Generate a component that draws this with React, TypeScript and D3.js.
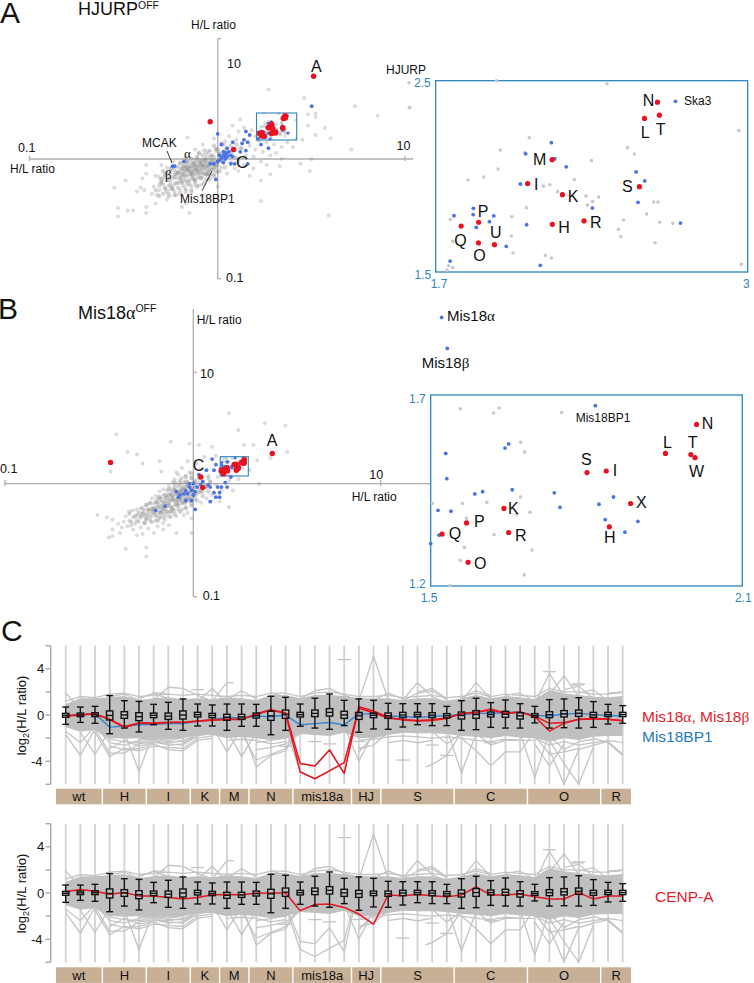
import React from "react";
import * as d3 from "d3";

type P = number[];

// ---------- Panel A main scatter (log10 H/L ratio) ----------
const hjurpGray: P[] = [
[.27,.58],[.46,.51],[.73,.44],[1.02,.43],[.85,.36],[.48,.37],[.52,.38],[.48,.28],[.57,.26],[.52,.35],[.45,.16],[.52,.2],[.6,.17],[.71,.08],[.5,0],[.44,-.04],[.49,-.1],[.34,0],[.33,-.06],[.28,-.13],[.23,-.18],[.23,-.35],[.59,-.47],[.12,.33],[.08,.28],[-.16,.18],[-.08,.12],[-.02,.17],[-.38,-.05],[-.38,-.12],[-.4,-.16],[-.49,-.18],[-.55,-.24],[-.41,-.24],[-.43,-.27],[-.39,-.26],[-.53,-.41],[-.48,-.43],[-.45,-.43],[-.53,-.48],[-.38,-.4],[-.38,-.45],[-.33,-.37],[-.31,-.31],[-.27,-.34],[-.19,-.4],[-.17,-.37],[-.15,-.45],[-.08,-.31],[0,-.23],[-.14,-.28],[-.22,-.3],[-.25,-.25],[-.3,-.2],[-.34,-.23],[-.28,-.12],[-.33,-.14],[-.3,-.05],[-.24,-.02],[-.12,.08],
[.11,.23],[.14,.26],[.18,.24],[.2,.19],[.24,.2],[.22,.15],[.26,.14],[.3,.12],[.34,.1],[.37,.14],[.4,.1],[.31,.05],[.28,.03],[.24,.06],[.2,.08],[.17,.11],[.13,.09],[.1,.16],[.06,.19],[.04,.15],[.23,-.02],[.19,.02],[.15,.03],[.26,-.05],[.19,-.08],[.14,-.05],[.11,-.1],[.17,-.14],[.09,-.08],[.05,-.12],[.11,-.02],[.07,.07],[-.01,.09],[-.04,.07],[-.06,.04],[-.1,.05],[.01,.05],
[-.02,.02],[-.04,-.01],[-.07,0],[-.09,-.02],[-.12,-.01],[-.14,-.03],[-.16,-.02],[-.18,-.05],[-.2,-.03],[-.06,-.03],[-.03,-.05],[-.01,-.03],[-.05,-.06],[-.08,-.05],[-.1,-.06],[-.12,-.05],[-.13,-.07],[-.15,-.06],[-.17,-.07],[-.19,-.08],[-.21,-.07],[-.23,-.09],[-.07,-.08],[-.09,-.09],[-.11,-.09],[-.13,-.1],[-.15,-.1],[-.17,-.11],[-.19,-.12],[-.21,-.11],[-.23,-.13],[-.25,-.1],[-.08,-.12],[-.1,-.12],[-.12,-.13],[-.14,-.13],[-.16,-.14],[-.18,-.15],[-.2,-.15],[-.22,-.16],[-.24,-.16],[-.26,-.14],[-.05,-.1],[-.03,-.08],[-.06,-.13],[-.09,-.16],[-.11,-.16],[-.13,-.17],[-.15,-.18],[-.17,-.19],[-.19,-.19],[-.21,-.2],[-.23,-.21],[-.25,-.19],[-.27,-.18],[-.29,-.16],[-.31,-.15],[-.04,-.16],[-.07,-.19],[-.1,-.22],[-.12,-.21],[-.14,-.23],[-.17,-.25],[-.2,-.26],[-.23,-.27],[-.26,-.29],[-.28,-.25],[-.31,-.26],[-.35,-.29],[-.01,-.07],[0,-.11],[.02,-.07],[.03,.01],[.02,-.02],[-.02,-.13],[-.11,.02],[-.17,.01],[-.22,-.06],[-.27,-.07],[-.06,.01],[-.13,-.04],[-.16,-.09],[-.2,-.1],[-.11,-.11],[-.14,-.15],[-.18,-.17],[-.08,-.15],[-.06,-.17],[-.12,-.19],[-.16,-.21],[-.09,-.04],[-.04,-.03],[-.18,-.13],[-.22,-.13],[-.26,-.22],[-.2,-.18],[-.24,-.24],[-.29,-.21],
];
const hjurpCore: P[] = [
[-.32,-.3],[-.33,-.26],[-.31,-.22],[-.3,-.17],[-.29,-.29],[-.28,-.24],[-.3,-.19],[-.28,-.14],[-.29,-.1],[-.26,-.31],[-.27,-.27],[-.25,-.22],[-.26,-.17],[-.27,-.12],[-.25,-.08],[-.23,-.3],[-.24,-.25],[-.22,-.2],[-.23,-.15],[-.22,-.11],[-.24,-.07],[-.2,-.29],[-.21,-.24],[-.19,-.2],[-.2,-.16],[-.21,-.12],[-.19,-.08],[-.2,-.04],[-.17,-.27],[-.18,-.23],[-.16,-.18],[-.17,-.14],[-.18,-.1],[-.16,-.06],[-.17,-.02],[-.14,-.26],[-.15,-.21],[-.13,-.16],[-.14,-.12],[-.15,-.08],[-.13,-.04],[-.14,0],[-.11,-.23],[-.12,-.18],[-.1,-.14],[-.11,-.1],[-.12,-.07],[-.1,-.03],[-.11,.01],[-.1,.05],[-.08,-.21],[-.09,-.16],[-.07,-.12],[-.08,-.08],[-.09,-.05],[-.07,-.01],[-.08,.03],[-.07,.07],[-.05,-.17],[-.06,-.13],[-.04,-.09],[-.05,-.06],[-.06,-.02],[-.04,.02],[-.05,.06],[-.02,-.14],[-.03,-.09],[-.01,-.05],[-.02,-.01],[-.03,.03],[-.01,.07],[-.02,.11],[.01,-.1],[0,-.05],[.02,0],[.01,.04],[0,.08],[.02,.13],[.04,-.07],[.03,-.02],[.05,.03],[.04,.07],[.03,.12],[.07,-.03],[.06,.02],[.08,.06],[.07,.11],[.1,.01],[.12,.09],[.1,.12],
[-.16,-.03],[-.14,-.06],[-.12,-.09],[-.1,-.01],[-.08,-.06],[-.06,-.09],[-.04,-.04],[-.02,-.07],[0,-.02],[-.15,-.12],[-.13,-.13],[-.11,-.06],[-.09,-.11],[-.07,-.05],[-.05,-.12],[-.03,-.02],[-.01,-.1],[-.16,-.09],[-.12,-.03],[-.08,-.02],[-.06,-.06],[-.04,-.13],[-.02,-.04],[-.14,-.1],[-.1,-.08],[-.18,-.06],[-.19,-.13],[-.17,-.08],
];
const hjurpBlue: P[] = [
[.5,.44],[0,.21],[.15,.23],[.17,.2],[.16,.14],[.14,.16],[.08,.14],[.02,.12],[.05,.09],[.03,.06],[.04,.05],[.01,.03],[.05,.02],[.07,.03],[.08,.02],[.01,-.01],[.04,0],[.12,.06],[.15,.07],[.09,-.04],[.07,-.04],[.03,-.03],[0,-.02],[-.04,-.04],[-.02,-.04],[-.23,-.06],[-.24,-.06],[-.18,-.02],[-.01,-.17],[.16,-.04],[.23,.12],[.27,.09],[.03,.03],[.05,.05],[.02,.01],[.06,.06],[.04,.02],[.13,.13],
];
const hjurpRed: P[] = [[.51,.69],[-.04,.31],[.085,.08]];

// ---------- Panel A inset (linear H/L ratio) ----------
const hjurpInsetRed: P[] = [
[2.624,2.388],[2.57,2.303],[2.632,2.32],[2.185,2.087],[2.083,1.962],[2.228,1.904],[2.549,1.946],[2.186,1.749],[2.318,1.767],[1.879,1.76],[1.806,1.74],[1.945,1.643],[1.878,1.653],
];
const hjurpInsetBlue: P[] = [
[2.699,2.392],[2.182,2.176],[2.075,2.118],[2.196,2.092],[2.244,2.05],[2.535,2.023],[2.571,1.976],[2.053,1.96],[2.543,1.864],[2.353,1.834],[2.72,1.756],[1.857,1.833],[1.856,1.8],[1.776,1.794],[1.942,1.793],[1.924,1.763],[1.869,1.733],[2.079,1.747],[1.994,1.634],[1.76,1.557],[2.136,1.535],
];
const hjurpInsetGray: P[] = [
[1.953,2.5],[2.414,2.484],[2.963,2.24],[2.09,2.202],[1.969,2.138],[2.071,2.124],[2.499,2.15],[2.528,2.117],[2.349,2.082],[1.96,2.038],[1.835,1.981],[1.9,1.996],[2.278,1.983],[2.149,1.949],[2.176,1.956],[2.208,1.92],[2.326,1.897],[2.379,1.892],[2.332,1.85],[2.354,1.868],[2.608,1.866],[2.626,1.866],[2.078,1.836],[2.579,1.803],[2.017,1.789],[1.761,1.774],[2.483,1.772],[2.633,1.76],[2.688,1.754],[2.461,1.723],[2.471,1.685],[2.015,1.688],[1.771,1.66],[2.614,1.653],[1.882,1.641],[2.022,1.599],[2.157,1.587],[2.182,1.573],[1.754,1.533],[1.771,1.523],[1.747,1.51],[2.974,1.54],[1.589,2.489],[1.592,2.36],
];
const hjurpInsetLabels: [string, number, number][] = [
["N",642.7,106],["L",640.7,137.7],["T",655.7,135],["M",533,165],["I",534,190],["K",567.7,201.7],["S",622,192],["H",558.3,232.7],["R",590,228],["P",477.7,217.3],["U",490,238.3],["Q",454.3,245.7],["O",473.3,260.7],
];

// ---------- Panel B main scatter (log10 H/L ratio) ----------
const mis18Gray: P[] = [
[-.41,.44],[-.35,.28],[-.3,.26],[-.27,.18],[-.18,.2],[-.44,.11],[-.17,.11],[-.12,.375],[-.02,.36],[.03,.345],[.1,.33],[.19,.63],[.24,.48],[.27,.345],[.32,.345],[.38,.54],[.49,.52],[.5,.28],[.41,.23],[.34,.21],[.35,0],[.21,-.06],[.19,-.21],[-.51,-.28],[-.46,-.3],[-.43,-.32],[-.43,-.41],[-.45,-.48],[-.43,-.47],[-.39,-.44],[-.36,-.58],[-.25,-.57],[-.25,-.65],[-.16,-.41],[-.09,-.44],[-.01,-.44],[-.01,-.31],
[.12,.25],[.06,.24],[.16,.2],[.21,.17],[.26,.15],[.3,.12],[.24,.04],[.19,.03],[.13,.06],[.08,.07],[.04,.13],[.02,.18],[-.03,.2],[-.06,.14],[-.09,.1],[.09,.02],[.12,-.01],[.15,-.06],[.1,-.1],[.07,-.13],[.14,-.16],[.04,-.17],[.01,-.14],
[-.02,.1],[-.04,.07],[-.06,.05],[-.08,.08],[-.1,.04],[-.01,.05],[.01,.03],[.03,.01],[-.03,.02],[-.05,.01],[-.07,.01],[-.09,0],[-.11,.01],[-.13,-.02],[.01,-.02],[-.02,-.02],[-.04,-.03],[-.06,-.04],[-.08,-.03],[-.1,-.05],[-.12,-.05],[-.14,-.06],[-.16,-.05],[-.18,-.07],[0,-.06],[-.02,-.07],[-.04,-.08],[-.06,-.09],[-.08,-.08],[-.1,-.1],[-.12,-.1],[-.14,-.11],[-.16,-.1],[-.18,-.12],[-.2,-.11],[-.22,-.13],[.02,-.09],[0,-.1],[-.03,-.12],[-.05,-.13],[-.07,-.13],[-.09,-.14],[-.11,-.15],[-.13,-.15],[-.15,-.16],[-.17,-.16],[-.19,-.17],[-.21,-.18],[-.23,-.18],[-.25,-.19],[-.02,-.16],[-.04,-.17],[-.06,-.18],[-.08,-.18],[-.1,-.19],[-.12,-.2],[-.14,-.2],[-.16,-.21],[-.18,-.21],[-.2,-.22],[-.22,-.23],[-.24,-.23],[-.26,-.24],[-.28,-.22],[-.3,-.23],[-.32,-.24],[-.04,-.21],[-.06,-.23],[-.08,-.23],[-.1,-.24],[-.12,-.25],[-.14,-.25],[-.16,-.26],[-.18,-.26],[-.2,-.27],[-.22,-.28],[-.24,-.28],[-.26,-.29],[-.28,-.29],[-.3,-.28],[-.32,-.3],[-.34,-.27],[-.36,-.29],[-.09,-.29],[-.12,-.3],[-.15,-.32],[-.18,-.31],[-.2,-.33],[-.23,-.33],[-.26,-.35],[-.29,-.34],[-.31,-.36],[-.34,-.33],[-.37,-.34],[-.13,-.37],[-.19,-.38],[-.24,-.4],[-.28,-.39],[-.32,-.41],[-.35,-.38],[-.21,-.44],[-.27,-.45],[-.3,-.46],[-.38,-.39],[-.15,-.28],[-.03,-.26],[-.01,-.2],[.03,-.04],[.05,-.07],[.07,-.03],[-.11,-.07],[-.15,-.13],[-.19,-.14],[-.07,-.06],[-.13,-.18],[-.17,-.24],[-.21,-.25],[-.27,-.26],[-.11,-.22],[-.25,-.32],[-.33,-.37],[-.16,-.35],[-.05,-.28],[-.4,-.36],
];
const mis18Core: P[] = [
[-.33,-.34],[-.31,-.29],[-.34,-.25],[-.3,-.33],[-.28,-.3],[-.29,-.26],[-.27,-.22],[-.26,-.35],[-.25,-.31],[-.27,-.27],[-.24,-.23],[-.25,-.19],[-.22,-.34],[-.23,-.3],[-.21,-.26],[-.22,-.22],[-.23,-.17],[-.19,-.33],[-.2,-.29],[-.18,-.25],[-.19,-.21],[-.2,-.16],[-.18,-.12],[-.16,-.3],[-.17,-.26],[-.15,-.22],[-.16,-.18],[-.17,-.14],[-.15,-.1],[-.13,-.29],[-.14,-.25],[-.12,-.21],[-.13,-.17],[-.14,-.13],[-.12,-.09],[-.13,-.05],[-.1,-.27],[-.11,-.23],[-.09,-.19],[-.1,-.15],[-.11,-.11],[-.09,-.07],[-.1,-.03],[-.1,.01],[-.07,-.25],[-.08,-.2],[-.06,-.16],[-.07,-.12],[-.08,-.09],[-.06,-.05],[-.07,-.01],[-.07,.03],[-.04,-.22],[-.05,-.17],[-.03,-.13],[-.04,-.09],[-.05,-.06],[-.03,-.02],[-.04,.02],[-.04,.06],[-.01,-.18],[-.02,-.14],[0,-.1],[-.01,-.06],[-.02,-.03],[0,.01],[-.01,.05],[-.01,.09],[.02,-.15],[.01,-.11],[.03,-.07],[.02,-.03],[.01,.01],[.03,.05],[.05,-.11],[.04,-.07],[.06,-.03],[.05,.01],[.04,.06],[.08,-.07],[.07,-.02],[.09,.01],[.08,.05],
[-.09,-.17],[-.07,-.14],[-.05,-.11],[-.03,-.08],[-.01,-.05],[.01,-.08],[-.11,-.13],[-.09,-.09],[-.07,-.07],[-.05,-.03],[-.03,0],[-.01,-.12],[-.13,-.1],[-.12,-.14],[-.1,-.06],[-.08,-.15],[-.06,-.08],[-.04,-.15],[-.02,-.09],[0,-.04],[-.15,-.17],[-.17,-.2],[-.19,-.18],[-.21,-.22],[-.14,-.2],[-.12,-.25],[-.16,-.23],[-.23,-.25],[-.25,-.27],[-.18,-.29],
];
const mis18Blue: P[] = [
[.1,.22],[-.2,-.24],[-.15,-.2],[-.09,-.07],[-.08,-.12],[.01,-.23],[.09,-.16],[.12,-.12],[.14,-.12],[.14,-.08],[.15,-.03],[.17,.01],[.18,-.03],[.13,-.03],[.11,-.08],[.08,-.01],[.05,.02],[.07,.12],[.11,.12],[.12,.17],[0,0],[-.02,-.03],[-.04,-.06],[-.01,-.06],[.02,-.03],[.01,-.07],[-.05,-.09],[-.03,-.09],[-.01,-.15],[-.04,-.15],[0,-.1],[.04,-.01],[-.02,0],[.09,-.03],[.2,.06],[.15,.13],[.03,.08],[-.07,-.1],
];
const mis18Red: P[] = [[.42,.27],[-.44,.19],[.04,.06],[.05,-.035]];

// ---------- Panel B inset ----------
const mis18InsetRed: P[] = [
[2.012,1.623],[1.952,1.547],[2.001,1.544],[2.009,1.536],[1.801,1.497],[1.838,1.501],[1.885,1.416],[1.641,1.403],[1.569,1.365],[1.844,1.355],[1.65,1.34],[1.522,1.336],[1.572,1.262],
];
const mis18InsetBlue: P[] = [
[1.521,1.903],[1.532,1.822],[1.817,1.672],[1.65,1.572],[1.643,1.561],[1.529,1.547],[1.531,1.481],[1.6,1.447],[1.585,1.441],[1.657,1.452],[1.738,1.444],[1.749,1.406],[1.824,1.414],[1.852,1.433],[1.514,1.398],[1.539,1.396],[1.836,1.374],[1.899,1.369],[1.874,1.341],[1.516,1.333],[1.5,1.311],
];
const mis18InsetGray: P[] = [
[1.557,1.664],[1.632,1.666],[1.621,1.653],[1.752,1.654],[1.673,1.576],[1.681,1.551],[1.673,1.433],[1.503,1.416],[1.561,1.416],[1.608,1.419],[1.691,1.393],[1.666,1.387],[1.569,1.377],[1.622,1.334],[1.565,1.301],[1.695,1.294],[1.557,1.267],[1.68,1.229],[1.537,1.201],
];
const mis18InsetLabels: [string, number, number][] = [
["N",701.7,429],["T",687.7,448],["L",663,448],["W",689,476.7],["S",581,465],["I",612.7,476.3],["X",636,508],["K",508,514],["P",474,527],["Q",448.7,539],["R",515,540.7],["H",604,543],["O",474,569],
];

// ---------- Panel C ----------
const groups: [string, number][] = [["wt",3],["H",3],["I",3],["K",2],["M",2],["N",3],["mis18a",4],["HJ",2],["S",5],["C",5],["O",5],["R",2]];
const whiskerHigh = [.69,.69,.75,1.68,1.24,1.18,.92,1.1,1.39,.95,.87,.95,.95,.92,1.62,1.53,.95,1.45,1.82,1.27,1.39,1.27,1.01,.98,.98,.98,.75,1.24,1.45,1.07,1.3,.98,.75,1.33,1.39,1.5,1.16,.92,.81];
const whiskerLow = [-.81,-.64,-.72,-1.62,-1.13,-1.47,-.84,-1.24,-1.33,-.95,-.95,-1.33,-.98,-.98,-1.71,-1.33,-.98,-1.13,-1.24,-.92,-1.5,-1.21,-1.24,-1.04,-.84,-.92,-.92,-1.33,-1.27,-1.07,-1.13,-1.13,-.69,-1.13,-1.1,-1.13,-1.07,-.78,-.72];
const q3 = [.14,.17,.2,.35,.29,.2,.17,.17,.35,.23,.14,.06,.06,.17,.32,.43,.23,.43,.55,.32,.23,.17,.17,.23,.23,.2,.12,.26,.38,.26,.32,.2,.12,.29,.38,.43,.23,.23,.23];
const q1 = [-.2,-.14,-.14,-.43,-.29,-.49,-.23,-.38,-.35,-.17,-.23,-.46,-.38,-.26,-.46,-.29,-.17,-.14,-.09,-.29,-.38,-.23,-.29,-.23,-.14,-.23,-.26,-.35,-.29,-.17,-.2,-.35,-.2,-.23,-.17,-.12,-.2,-.14,-.14];
const medians = [-.03,.01,.02,-.04,0,-.14,-.03,-.1,0,.03,-.04,-.2,-.16,-.05,-.07,.07,.03,.14,.23,.01,-.07,-.03,-.06,0,.04,-.01,-.07,-.04,.04,.04,.06,-.07,-.04,.03,.1,.15,.01,.04,.04];
const bandTop = [.95,1.45,1.45,1.53,1.65,1.3,1.45,1.53,1.36,1.45,1.36,1.53,1.45,1.3,1.73,1.73,1.45,1.73,1.73,1.65,1.45,1.45,1.45,1.3,1.45,1.45,1.24,1.45,1.73,1.45,1.65,1.53,1.36,2.17,1.88,1.73,1.59,1.53,1.65];
const bandBottom = [-1.07,-1.45,-1.3,-2.02,-2.02,-2.02,-2.02,-2.11,-2.02,-1.73,-1.73,-2.02,-1.88,-2.02,-2.17,-2.02,-1.65,-1.73,-1.82,-1.53,-2.02,-2.02,-1.73,-1.53,-1.59,-1.59,-1.65,-1.82,-1.88,-2.02,-1.82,-1.94,-2.02,-2.31,-2.02,-2.17,-1.88,-1.82,-1.82];
const grayTraces: P[][] = [
[[0,1.9],[1,.5]],[[0,-1.7],[1,-3.5],[2,-1.2]],[[0,-1.4],[1,-2.4],[2,-1]],[[1,-1.5],[2,-3.4],[3,-1.3]],
[[2,-1.5],[3,-3.6],[4,-2.9],[5,-3.1],[6,-2.7],[7,-2.8],[8,-2.9],[9,-2],[10,-1.8]],[[2,-1.2],[3,-3.3],[4,-3.3],[5,-2.5],[6,-2.3],[7,-2.6],[8,-2.5],[9,-1.6]],[[4,-1.5],[5,-4.9],[6,-1.5]],[[2,-1],[3,-2.4],[4,-2.6],[5,-2.2],[6,-2],[7,-2.2],[8,-2],[9,-1.3]],[[3,-2.9],[4,-2.2],[5,-2.7],[6,-2.4],[7,-2.4],[8,-2.2],[9,-1.7]],[[5,-2.1],[6,-1.9],[7,-1.9],[8,-1.8]],
[[10,-1],[11,-3.2],[12,-1.2]],[[11,-1.3],[12,-3.6],[13,-1.5]],[[12,-1],[13,-4.5],[14,-3.5],[15,-3.1],[16,-1.2]],[[12,-1.5],[13,-3.9],[14,-3.4],[15,-2.9],[16,-1]],[[13,-2.4],[14,-2.2],[15,-2],[16,-1.3]],
[[15,-1.2],[16,-4.9],[17,-5.5],[18,-4.8],[19,-4.1],[20,.7]],[[15,-1],[16,-4.2],[17,-4.4],[18,-3],[19,-5.1],[20,.6]],
[[6,1.3],[7,2.4],[8,2.3],[9,1.7],[10,1.2]],[[5,1.4],[6,1.9],[7,1.4]],[[9,1.2],[10,2.3],[11,1]],[[10,1.2],[11,2.8],[11.45,2.8]],[[11,1.3],[12,2.1],[13,1.4]],[[16,1.4],[17,2.1],[18,2.3],[19,1.7],[20,1.3]],[[3,1.6],[4,1.8],[5,1.3]],[[14,1.9],[15,1.6]],
[[20,1.2],[21,5.1],[22,1.3]],[[19,-1],[20,-4],[21,-1.5]],[[20,-2.9],[21,-2.6],[22,-1.5]],[[20,-3.2],[21,-1.8]],
[[23,1.3],[24,2.8],[25,1.6],[26,1]],[[24,2],[25,2.3],[26,1.4]],[[23,1.2],[24,1.9],[25,2.1],[26,1.3]],[[27,1.2],[28,2.8],[29,1.4]],[[27,1.5],[28,2.1],[29,1.7]],[[32,1],[33,3.6],[34,1.6]],[[33,1.8],[34,3.4],[35,1.6]],[[34,2.2],[35,2.5],[36,1.4]],[[35,1.9],[36,2.2],[37,1.2]],[[37,1.9],[38,2]],[[30,1.7],[31,1.9],[32,1.2]],[[21,1.3],[22,1.9],[23,1.4]],
[[24.55,-4.5],[25,-4.3],[26,-3.5],[27,-1.5]],[[26,-1.2],[27,-5],[28,-1.6]],[[27,-2],[28,-3.1],[29,-4.4],[30,-3.2],[31,-3.2],[32,-1.4]],[[28,-1.6],[29,-2.6],[30,-2.2],[31,-2.2]],[[31,-1.5],[32,-5.4],[33,-1.5]],[[32,-2.5],[33,-4.4],[34,-2.5]],[[33,-3],[34,-6],[35,-3],[36,-2.6],[37,-2.3],[38,-3.4]],[[33,-2.2],[34,-4.2],[35,-6],[36,-2.8]],[[36,-2],[37,-2.4],[38,-3.5]],[[33,-1.8],[34,-3],[35,-2.3],[36,-2.1]],[[25,-1.4],[26,-2.5],[27,-1.6]],
[[2,-1.2],[3,-2.1],[4,-2.3],[5,-2.4],[6,-2.1],[7,-2.3],[8,-2.3],[9,-1.9]],[[3,-1.9],[4,-2],[5,-1.9],[6,-2.2],[7,-2.5],[8,-2.6],[9,-1.8],[10,-1.6]],[[3,-2.7],[4,-3],[5,-2.9],[6,-2.5],[7,-3],[8,-3.1],[9,-2.2],[10,-2]],[[11,-2.2],[12,-2.1],[13,-2.2],[14,-2.5],[15,-2.3]],[[13,-3],[14,-2.8],[15,-2.5],[16,-1.6]],[[20,-2.2],[21,-2.1],[22,-1.9],[23,-1.8],[24,-1.9],[25,-2],[26,-1.9],[27,-2],[28,-2.2],[29,-2.3],[30,-2.1],[31,-2.2],[32,-2.2]],[[22,-2.4],[23,-2.2],[24,-2.4],[25,-2.2]],[[32,-2],[33,-2.6],[34,-2.3],[35,-2.6],[36,-2.4],[37,-2.2],[38,-2.4]],[[32,-1.8],[33,-3.4],[34,-3.2],[35,-2.9]],
[[0,1.2],[1,1.6],[2,1.5],[3,1.8],[4,1.9],[5,1.6],[6,1.7],[7,1.8],[8,1.7],[9,1.8],[10,1.7],[11,1.6],[12,1.7],[13,1.6],[14,1.9],[15,1.9],[16,1.6],[17,1.9],[18,2],[19,1.8],[20,1.6],[21,1.6],[22,1.7],[23,1.5],[24,1.6],[25,1.7],[26,1.5],[27,1.6],[28,1.9],[29,1.6],[30,1.8],[31,1.7],[32,1.6],[33,2.3],[34,2],[35,2],[36,1.8],[37,1.8],[38,2]],
];
const grayDashes: [number, number][] = [[19,4.8],[17,-2.3],[18,-2.5],[15,-2.7],[9,2.2],[23,-3.9],[25,-2.6],[26,-3.5],[33,3.75],[35,2.7],[34.9,2.6],[37.4,1.9],[6.4,1.9],[20,-2.3],[29,-2.4]];
const mis18aLine = [-.1,0,.1,-.4,-1.1,-.7,-.75,-.65,-.65,-.55,-.45,-.4,-.4,.1,.45,.2,-4.19,-4.42,-3.03,-5.06,.72,.35,-.2,-.43,-.52,-.47,-.3,.15,.2,.52,.15,.26,-.14,-1.39,-.72,-.38,-.35,-.35,-.52];
const mis18bLine = [-.05,.02,.08,-.35,-1,-.68,-.7,-.62,-.62,-.52,-.42,-.36,-.36,.05,.42,.15,-4.94,-5.52,-4.83,-4.13,.58,.2,-.28,-.4,-.48,-.42,-.26,.1,.25,.45,.12,.24,-.1,-.72,-.66,-.36,-.3,-.38,-.48];
const mis18bp1Line = [-.1,.05,.1,-1.05,-.95,-.85,-.8,-.75,-.75,-.55,-.4,-.2,-.25,-.1,-.15,0,-.85,-.75,-.65,-.85,.1,.1,-.09,-.14,-.2,-.14,-.03,.03,.14,.14,.2,.26,-.03,-.09,.09,.14,.03,-.03,-.09];
const cenpALine = [.1,.3,.15,-.1,.05,-.25,-.25,-.38,-.52,-.38,-.15,-.12,-.15,-.03,0,0,-1.53,-1,-.95,-1.25,-1.82,-2.7,-.17,-.23,-.12,-.23,-.32,-.17,.52,-.17,-.17,-.09,-.32,-.52,-.52,.03,-.52,-.26,-.26];

const SANS = "'Liberation Sans', Arial, sans-serif";
const SERIF = "'Liberation Serif', serif";
const BLUE = "#4a74e2";
const RED = "#ea1020";
const TEAL = "#2b86bd";
const AXIS = "#aeaeae";

const T = ({x, y, s = 12, fill = "#111", f = SANS, a, children}: any) => (
  <text x={x} y={y} fontSize={s} fill={fill} fontFamily={f} textAnchor={a}>{children}</text>
);

const Dots = ({pts, sx, sy, r, fill, op = 1}: any) => (
  <g fill={fill} fillOpacity={op}>
    {pts.map((p: P, i: number) => <circle key={i} cx={sx(p[0])} cy={sy(p[1])} r={r} />)}
  </g>
);

function Scatter({x0, x1, y1, vTop, gray, core, blue, red, ibox, idx, idy, iBlue, iRed, iGray}: any) {
  const sx = d3.scaleLinear().domain([-1, 1]).range([x0, x1]);
  const sy = d3.scaleLinear().domain([-1, 1]).range([y1, vTop]);
  const bx = d3.scaleLinear().domain(idx).range([ibox[0], ibox[2]]);
  const by = d3.scaleLinear().domain(idy).range([ibox[3], ibox[1]]);
  const inBox = (p: P) => p[0] >= idx[0] && p[0] <= idx[1] && p[1] >= idy[0] && p[1] <= idy[1];
  return (
    <g>
      <Dots pts={gray} sx={sx} sy={sy} r={2} fill="#7f7f7f" op={0.28} />
      <Dots pts={core} sx={sx} sy={sy} r={2.3} fill="#7f7f7f" op={0.33} />
      <Dots pts={iGray.filter(inBox)} sx={bx} sy={by} r={1.6} fill="#8c8c8c" op={0.3} />
      <rect x={ibox[0]} y={ibox[1]} width={ibox[2] - ibox[0]} height={ibox[3] - ibox[1]} fill="none" stroke={TEAL} strokeWidth={1.1} />
      <Dots pts={blue} sx={sx} sy={sy} r={1.9} fill={BLUE} />
      <Dots pts={iBlue.filter(inBox)} sx={bx} sy={by} r={1.6} fill={BLUE} />
      <Dots pts={red} sx={sx} sy={sy} r={2.7} fill={RED} />
      <Dots pts={iRed} sx={bx} sy={by} r={2.9} fill={RED} />
    </g>
  );
}

function Inset({box, dx, dy, red, blue, gray, labels, tl, bl, rr, bt}: any) {
  const [x0, y0, x1, y1] = box;
  const sx = d3.scaleLinear().domain(dx).range([x0, x1]);
  const sy = d3.scaleLinear().domain(dy).range([y1, y0]);
  return (
    <g>
      <rect x={x0} y={y0} width={x1 - x0} height={y1 - y0} fill="#fff" stroke={TEAL} strokeWidth={1.3} />
      <Dots pts={gray} sx={sx} sy={sy} r={1.8} fill="#c9c9c9" />
      <Dots pts={blue} sx={sx} sy={sy} r={1.9} fill={BLUE} />
      <Dots pts={red} sx={sx} sy={sy} r={2.6} fill={RED} />
      {labels.map((l: any, i: number) => <T key={i} x={l[1]} y={l[2]} s={16}>{l[0]}</T>)}
      <T x={tl[0]} y={tl[1]} fill={TEAL}>{tl[2]}</T>
      <T x={bl[0]} y={bl[1]} fill={TEAL}>{bl[2]}</T>
      <T x={bt[0]} y={bt[1]} fill={TEAL}>{bt[2]}</T>
      <T x={rr[0]} y={rr[1]} fill={TEAL}>{rr[2]}</T>
    </g>
  );
}

function Profile({top, zero, red}: any) {
  const n = whiskerHigh.length;
  const x = d3.scaleLinear().domain([0, n - 1]).range([65.7, 622.7]);
  const y = d3.scaleLinear().domain([-6, 6]).range([zero + 69.3, zero - 69.3]);
  const line = d3.line<P>().x(d => x(d[0])).y(d => y(d[1]));
  const vals = (a: number[]) => line(a.map((v, i) => [i, v]));
  const area = d3.area<number>().x((_, i) => x(i)).y0((_, i) => y(bandBottom[i])).y1((_, i) => y(bandTop[i]));
  let c = 0;
  const segs = groups.map(([g, k], j) => {
    const a = c, b = c + k - 1;
    c += k;
    const left = j === 0 ? 56 : (x(a - 1) + x(a)) / 2 + 0.7;
    const right = j === groups.length - 1 ? 631 : (x(b) + x(b + 1)) / 2 - 0.7;
    return {g, left, right};
  });
  return (
    <g>
      {d3.range(n).map(i => <line key={i} x1={x(i)} x2={x(i)} y1={y(6)} y2={y(-6)} stroke="#d2d2d2" strokeWidth={1.8} />)}
      <g fill="none" stroke="#c4c4c4" strokeWidth={1.3}>
        {grayTraces.map((t, i) => <path key={i} d={line(t) as string} />)}
        {grayDashes.map((d, i) => <line key={i} x1={x(d[0]) - 6.5} x2={x(d[0]) + 6.5} y1={y(d[1])} y2={y(d[1])} />)}
      </g>
      <path d={area(bandTop) as string} fill="#c0c0c0" />
      <g fill="none" stroke="#a8a8a8" strokeWidth={1.4}>
        <line x1={50.7} x2={50.7} y1={y(6)} y2={y(-6)} />
        {[-6, -4, -2, 0, 2, 4, 6].map(v => <line key={v} x1={45.5} x2={50.7} y1={y(v)} y2={y(v)} />)}
      </g>
      {[4, 0, -4].map(v => <T key={v} x={v < 0 ? 31 : 37} y={y(v) + 4.5} s={13}>{v}</T>)}
      <text transform={`translate(25.5,${zero + 0.5}) rotate(-90)`} fontSize={13} fill="#111" fontFamily={SANS} textAnchor="middle">
        log<tspan fontSize={9} dy={3}>2</tspan><tspan dy={-3}>(H/L ratio)</tspan>
      </text>
      {red.map((r: any, i: number) => <path key={i} d={vals(r.v) as string} fill="none" stroke={r.c} strokeWidth={r.w} strokeLinejoin="round" />)}
      <g stroke="#111" strokeWidth={1.4} fill="none">
        {d3.range(n).map(i => (
          <g key={i}>
            <line x1={x(i)} x2={x(i)} y1={y(whiskerHigh[i])} y2={y(q3[i])} />
            <line x1={x(i)} x2={x(i)} y1={y(whiskerLow[i])} y2={y(q1[i])} />
            <line x1={x(i) - 3.4} x2={x(i) + 3.4} y1={y(whiskerHigh[i])} y2={y(whiskerHigh[i])} />
            <line x1={x(i) - 3.4} x2={x(i) + 3.4} y1={y(whiskerLow[i])} y2={y(whiskerLow[i])} />
            <rect x={x(i) - 3.2} y={y(q3[i])} width={6.4} height={y(q1[i]) - y(q3[i])} />
            <line x1={x(i) - 3.2} x2={x(i) + 3.2} y1={y(medians[i])} y2={y(medians[i])} />
          </g>
        ))}
      </g>
      {segs.map(s => (
        <g key={s.g}>
          <rect x={s.left} y={top} width={s.right - s.left} height={15.6} fill="#c8b097" />
          <text x={(s.left + s.right) / 2} y={top + 12.6} fontSize={13} textAnchor="middle" fill="#111" fontFamily={SANS}>{s.g}</text>
        </g>
      ))}
    </g>
  );
}

export default function App() {
  return (
    <svg width={754} height={983} style={{position: "absolute", left: 0, top: 0, background: "#fff"}}>
      {/* Panel letters */}
      <T x={0} y={22.5} s={30}>A</T>
      <T x={-2} y={319} s={30}>B</T>
      <T x={1} y={641} s={30}>C</T>

      {/* Panel A */}
      <T x={78} y={15} s={18}>HJURP<tspan fontSize={10.5} dy={-6.5}>OFF</tspan></T>
      <g stroke={AXIS} strokeWidth={1.3} fill="none">
        <line x1={29.5} x2={413} y1={159} y2={159} />
        <line x1={217.7} x2={217.7} y1={38.7} y2={278.7} />
        <line x1={29.5} x2={29.5} y1={156} y2={161} />
        <line x1={405} x2={405} y1={156} y2={161} />
        <line x1={217.7} x2={221} y1={38.7} y2={38.7} />
        <line x1={217.7} x2={221} y1={278.7} y2={278.7} />
      </g>
      <Scatter x0={29.7} x1={405.7} vTop={39} y1={279} gray={hjurpGray} core={hjurpCore} blue={hjurpBlue} red={hjurpRed}
        ibox={[256.5, 113, 296.7, 140]} idx={[1.7, 3]} idy={[1.5, 2.5]} iBlue={hjurpInsetBlue} iRed={hjurpInsetRed} iGray={hjurpInsetGray} />
      <T x={191} y={28.5}>H/L ratio</T>
      <T x={227} y={67.5} s={12.5}>10</T>
      <T x={18} y={151.5} s={12.5}>0.1</T>
      <T x={10} y={173}>H/L ratio</T>
      <T x={396.5} y={150} s={12.5}>10</T>
      <T x={226} y={282} s={12.5}>0.1</T>
      <T x={142} y={146.5}>MCAK</T>
      <T x={184} y={158} s={13} f={SERIF}>α</T>
      <T x={165} y={179} s={13} f={SERIF}>β</T>
      <T x={180} y={203}>Mis18BP1</T>
      <T x={236} y={168} s={17}>C</T>
      <T x={311} y={72} s={16}>A</T>
      <g stroke="#222" strokeWidth={0.9}>
        <line x1={167} y1={151} x2={172} y2={163} />
        <line x1={212} y1={171} x2={202} y2={191} />
      </g>
      <T x={386} y={74}>HJURP</T>
      <Inset box={[435.7, 80.7, 747.7, 272]} dx={[1.7, 3]} dy={[1.5, 2.5]} red={hjurpInsetRed} blue={hjurpInsetBlue} gray={hjurpInsetGray}
        labels={hjurpInsetLabels} tl={[414, 87, "2.5"]} bl={[414.5, 279, "1.5"]} bt={[430.7, 288, "1.7"]} rr={[743, 288, "3"]} />
      <T x={684} y={105} s={12}>Ska3</T>

      {/* Panel B */}
      <T x={78} y={319} s={18}>Mis18<tspan fontFamily={SERIF}>α</tspan><tspan fontSize={10.5} dy={-7}>OFF</tspan></T>
      <g stroke={AXIS} strokeWidth={1.3} fill="none">
        <line x1={5} x2={431} y1={483.7} y2={483.7} />
        <line x1={193.3} x2={193.3} y1={309} y2={596.7} />
        <line x1={5} x2={5} y1={480} y2={486} />
        <line x1={380.7} x2={380.7} y1={480} y2={486} />
        <line x1={193.3} x2={197} y1={372.3} y2={372.3} />
        <line x1={193.3} x2={197} y1={596.7} y2={596.7} />
      </g>
      <Scatter x0={5.3} x1={381.3} vTop={371.7} y1={595.7} gray={mis18Gray} core={mis18Core} blue={mis18Blue} red={mis18Red}
        ibox={[220.3, 456.7, 248.3, 476]} idx={[1.5, 2.1]} idy={[1.2, 1.7]} iBlue={mis18InsetBlue} iRed={mis18InsetRed} iGray={mis18InsetGray} />
      <T x={196.7} y={324.3}>H/L ratio</T>
      <T x={200} y={378} s={12.5}>10</T>
      <T x={202.7} y={600} s={12.5}>0.1</T>
      <T x={0} y={472.7} s={12.5}>0.1</T>
      <T x={369.3} y={479.3} s={12.5}>10</T>
      <T x={351.7} y={500.7}>H/L ratio</T>
      <T x={266.7} y={446} s={16}>A</T>
      <T x={192.7} y={470.7} s={16}>C</T>
      <Inset box={[430.7, 395, 742.3, 586]} dx={[1.5, 2.1]} dy={[1.2, 1.7]} red={mis18InsetRed} blue={mis18InsetBlue} gray={mis18InsetGray}
        labels={mis18InsetLabels} tl={[409, 403, "1.7"]} bl={[409, 588, "1.2"]} bt={[420.7, 601.7, "1.5"]} rr={[735, 601.7, "2.1"]} />
      <T x={447} y={321} s={15}>Mis18<tspan fontFamily={SERIF}>α</tspan></T>
      <T x={421.7} y={367.7} s={15}>Mis18<tspan fontFamily={SERIF}>β</tspan></T>
      <T x={575.7} y={421.7} s={12}>Mis18BP1</T>

      {/* Panel C */}
      <Profile top={788.7} zero={715} red={[
        {v: mis18bp1Line, c: "#2f86d6", w: 1.4},
        {v: mis18aLine, c: "#e8141f", w: 1.5},
        {v: mis18bLine, c: "#e8141f", w: 1.5},
      ]} />
      <Profile top={967.3} zero={893} red={[{v: cenpALine, c: "#e8141f", w: 1.5}]} />
      <T x={642} y={722} s={15.5} fill="#e8202a">Mis18<tspan fontFamily={SERIF}>α</tspan>, Mis18<tspan fontFamily={SERIF}>β</tspan></T>
      <T x={642} y={741.7} s={15.5} fill="#1f78c0">Mis18BP1</T>
      <T x={655} y={901.7} s={15.5} fill="#e8202a">CENP-A</T>
    </svg>
  );
}
